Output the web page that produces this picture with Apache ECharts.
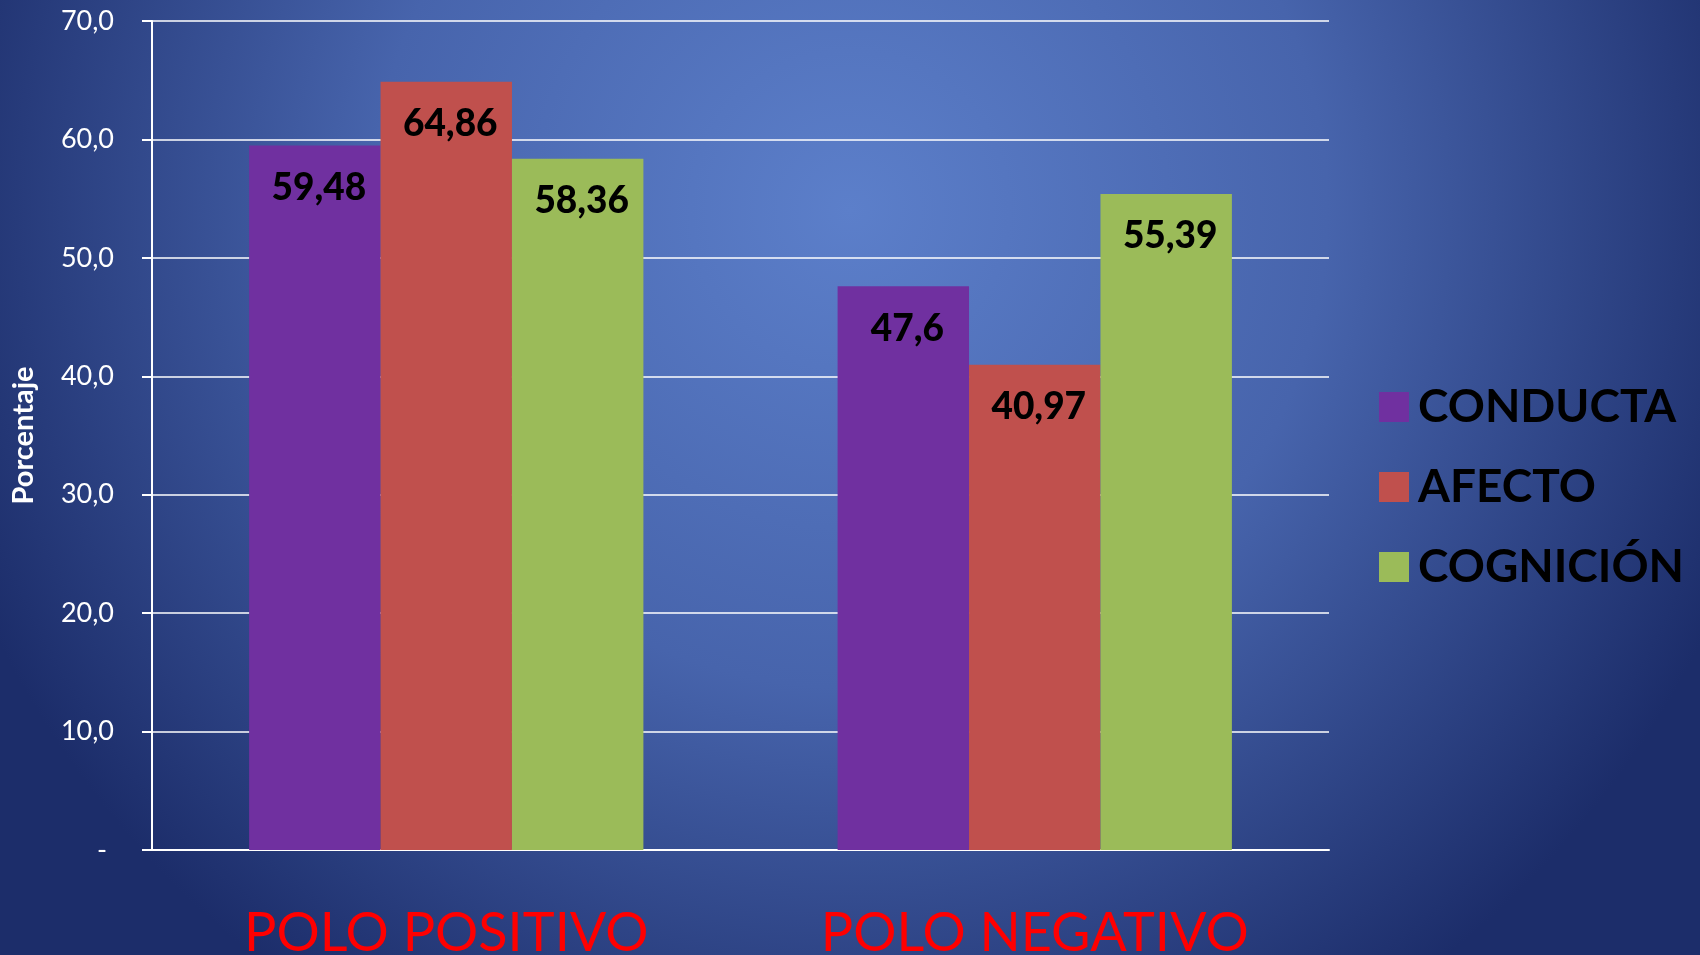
<!DOCTYPE html>
<html>
<head>
<meta charset="utf-8">
<script src="https://cdn.jsdelivr.net/npm/echarts@6/dist/echarts.min.js"></script>
<style>
html,body{margin:0;padding:0;width:1700px;height:955px;overflow:hidden;}
#chart{width:1700px;height:955px;}
</style>
</head>
<body>
<div id="chart"></div>
<script>
const categories = ['POLO POSITIVO', 'POLO NEGATIVO'];
const seriesNames = ['CONDUCTA', 'AFECTO', 'COGNICIÓN'];
const conducta = [59.48, 47.6];
const afecto = [64.86, 40.97];
const cognicion = [58.36, 55.39];
const labelText = [['59,48', '47,6'], ['64,86', '40,97'], ['58,36', '55,39']];
const yAxisName = 'Porcentaje';
const yTicks = { min: 0, max: 70, interval: 10 };

const colors = ['#7030a0', '#c0504d', '#9bbb59'];
const values = [conducta, afecto, cognicion];
const FONT = 'Lato, "Open Sans", sans-serif';

const chart = echarts.init(document.getElementById('chart'), null, { renderer: 'canvas' });

const series = seriesNames.map((name, i) => ({
  name: name,
  type: 'bar',
  barGap: '0%',
  barCategoryGap: '33%',
  itemStyle: { color: colors[i] },
  data: values[i],
  label: {
    show: true,
    position: 'insideTop',
    distance: 24,
    offset: [4, 0],
    color: '#000',
    fontFamily: FONT,
    fontWeight: 900,
    fontSize: 37,
    formatter: p => labelText[i][p.dataIndex]
  },
  emphasis: { disabled: true }
}));

chart.setOption({
  animation: false,
  backgroundColor: {
    type: 'radial', x: 0.5, y: 0.22, r: 1.0,
    colorStops: [
      { offset: 0, color: '#5c7fca' },
      { offset: 0.5, color: '#4764ac' },
      { offset: 1, color: '#1c2d6a' }
    ]
  },
  grid: { left: 152, right: 371, top: 21, bottom: 105, containLabel: false, outerBoundsMode: 'none' },
  legend: {
    orient: 'vertical',
    left: 1379,
    top: 384,
    padding: 0,
    itemWidth: 30,
    itemHeight: 30,
    itemGap: 34,
    icon: 'rect',
    textStyle: { color: '#000', fontFamily: FONT, fontWeight: 'bold', fontSize: 46, lineHeight: 46, padding: [0, 0, 0, 4] },
    data: seriesNames
  },
  xAxis: {
    type: 'category',
    data: categories,
    axisLine: { show: true, lineStyle: { color: '#ffffff', width: 2 } },
    axisTick: { show: false },
    axisLabel: { color: '#ff0000', fontFamily: FONT, fontSize: 54, margin: 57 }
  },
  yAxis: {
    type: 'value',
    min: yTicks.min,
    max: yTicks.max,
    interval: yTicks.interval,
    name: yAxisName,
    nameLocation: 'middle',
    nameRotate: 90,
    nameGap: 114,
    nameTextStyle: { color: '#ffffff', fontFamily: FONT, fontWeight: 'bold', fontSize: 29 },
    axisLine: { show: true, lineStyle: { color: '#ffffff', width: 2 } },
    axisTick: { show: true, length: 10, lineStyle: { color: '#ffffff', width: 2 } },
    splitLine: { show: true, lineStyle: { color: '#ffffff', width: 1.5 } },
    axisLabel: {
      color: '#ffffff', fontFamily: FONT, fontSize: 27, margin: 38,
      formatter: v => v === 0 ? '- ' : v.toFixed(1).replace('.', ',')
    }
  },
  series: series
});
</script>
</body>
</html>
